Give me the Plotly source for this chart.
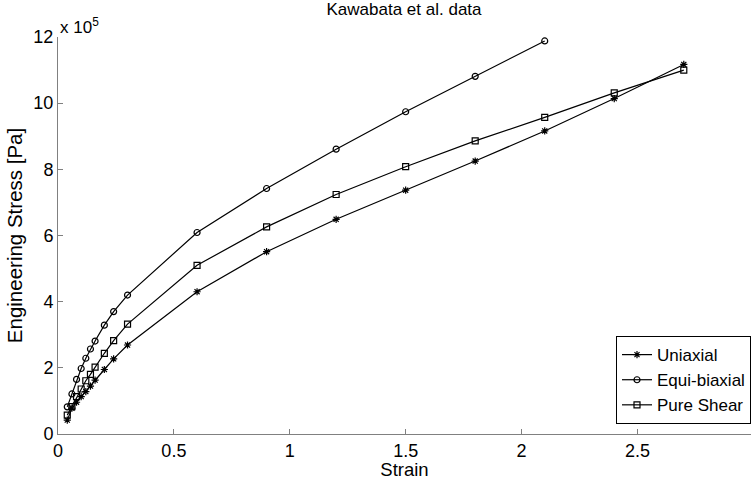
import plotly.graph_objects as go

# Strain values
strain_small = [0.04, 0.06, 0.08, 0.10, 0.12, 0.14, 0.16, 0.20, 0.24, 0.30]
strain_uni = strain_small + [0.6, 0.9, 1.2, 1.5, 1.8, 2.1, 2.4, 2.7]
strain_equi = strain_small + [0.6, 0.9, 1.2, 1.5, 1.8, 2.1]
strain_shear = strain_small + [0.6, 0.9, 1.2, 1.5, 1.8, 2.1, 2.4, 2.7]

# Engineering stress [Pa]
stress_uni = [0.42e5, 0.78e5, 0.96e5, 1.13e5, 1.28e5, 1.45e5, 1.63e5, 1.95e5, 2.27e5, 2.69e5,
              4.30e5, 5.51e5, 6.49e5, 7.37e5, 8.25e5, 9.16e5, 10.14e5, 11.17e5]
stress_equi = [0.82e5, 1.21e5, 1.65e5, 1.98e5, 2.29e5, 2.57e5, 2.81e5, 3.29e5, 3.70e5, 4.20e5,
               6.09e5, 7.42e5, 8.61e5, 9.74e5, 10.81e5, 11.88e5]
stress_shear = [0.57e5, 0.83e5, 1.13e5, 1.36e5, 1.61e5, 1.80e5, 2.02e5, 2.44e5, 2.82e5, 3.32e5,
                5.10e5, 6.26e5, 7.24e5, 8.08e5, 8.86e5, 9.57e5, 10.31e5, 11.00e5]

y_tick_vals = [0, 2e5, 4e5, 6e5, 8e5, 10e5, 12e5]
y_tick_text = ["0", "2", "4", "6", "8", "10", "12"]
x_tick_vals = [0, 0.5, 1, 1.5, 2, 2.5]
x_tick_text = ["0", "0.5", "1", "1.5", "2", "2.5"]

FONT = "Liberation Sans, Arial, Helvetica, sans-serif"
AXIS_GRAY = "#808080"

fig = go.Figure()
series = [
    ("Uniaxial", strain_uni, stress_uni, "asterisk-open", 6),
    ("Equi-biaxial", strain_equi, stress_equi, "circle-open", 6),
    ("Pure Shear", strain_shear, stress_shear, "square-open", 6),
]
for name, xs, ys, sym, sz in series:
    fig.add_trace(go.Scatter(
        x=xs, y=ys, name=name, mode="lines+markers",
        line=dict(color="black", width=1.2),
        marker=dict(symbol=sym, size=sz, color="black",
                    line=dict(color="black", width=1.2)),
    ))

fig.update_layout(
    width=751, height=480,
    margin=dict(l=58, r=0, t=37, b=46),
    paper_bgcolor="white", plot_bgcolor="white",
    font=dict(family=FONT, size=18, color="black"),
    title=dict(text="Kawabata et al. data", x=0.538, xanchor="center",
               y=1 - 9 / 480, yanchor="middle", yref="container",
               font=dict(family=FONT, size=17, color="black")),
    showlegend=True,
    legend=dict(x=1, xanchor="right", y=0.025, yanchor="bottom",
                bordercolor="black", borderwidth=1, bgcolor="white",
                font=dict(family=FONT, size=17, color="black"),
                tracegroupgap=0, itemwidth=30),
    xaxis=dict(range=[0, 2.99], tickvals=x_tick_vals, ticktext=x_tick_text,
               ticks="inside", ticklen=5, tickcolor=AXIS_GRAY, tickwidth=1,
               showline=True, linecolor=AXIS_GRAY, linewidth=1, mirror=False,
               showgrid=False, zeroline=False,
               tickfont=dict(family=FONT, size=18),
               title=dict(text="Strain", standoff=0,
                          font=dict(family=FONT, size=18.5))),
    yaxis=dict(range=[0, 12e5], tickvals=y_tick_vals, ticktext=y_tick_text,
               ticks="inside", ticklen=5, tickcolor=AXIS_GRAY, tickwidth=1,
               showline=True, linecolor=AXIS_GRAY, linewidth=1, mirror=False,
               showgrid=False, zeroline=False,
               tickfont=dict(family=FONT, size=18),
               title=dict(text="Engineering Stress [Pa]", standoff=5,
                          font=dict(family=FONT, size=20.5))),
    annotations=[
        dict(text="x 10<sup>5</sup>", xref="paper", yref="paper",
             x=0, y=1, xanchor="left", yanchor="bottom", showarrow=False,
             yshift=-2, font=dict(family=FONT, size=17, color="black")),
    ],
)

fig.write_html("out.html")
